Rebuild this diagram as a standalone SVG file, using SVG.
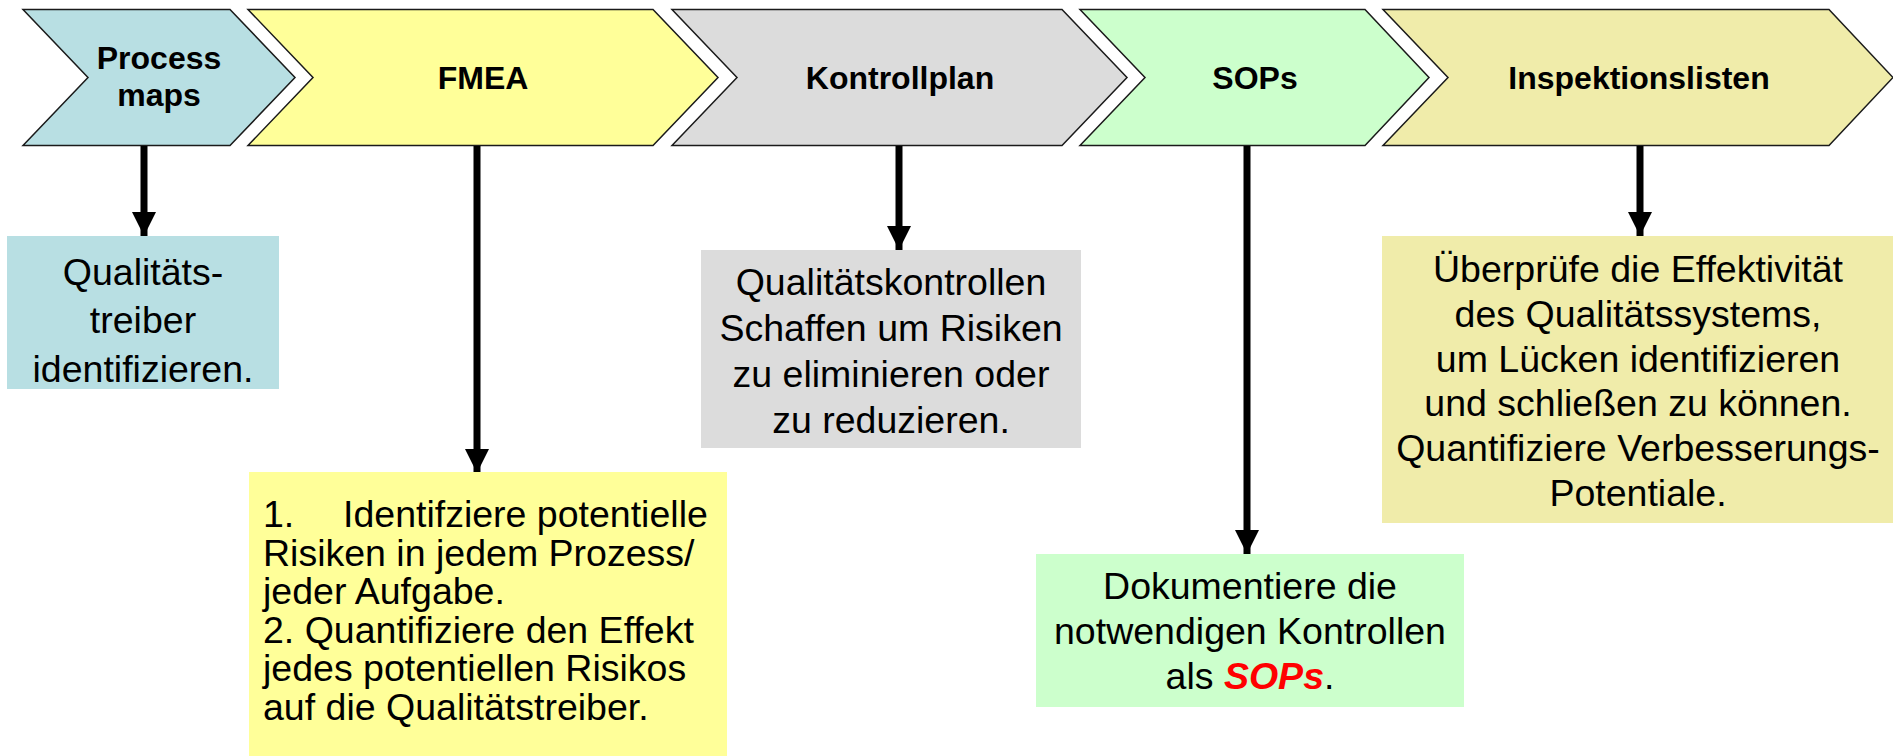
<svg xmlns="http://www.w3.org/2000/svg" width="1893" height="756" viewBox="0 0 1893 756">
  <style>
    .chev { stroke: #1a1a1a; stroke-width: 1.5; stroke-linejoin: miter; }
    .head { font-family: "Liberation Sans", Arial, sans-serif; font-weight: bold; font-size: 32px; fill: #000; text-anchor: middle; }
    .body { font-family: "Liberation Sans", Arial, sans-serif; font-size: 37.5px; fill: #000; }
    .mid { text-anchor: middle; }
    .stem { stroke: #000; stroke-width: 7; fill: none; }
    .hl { fill: #ff0000; font-weight: bold; font-style: italic; }
  </style>
  <defs>
    <marker id="tip" markerUnits="userSpaceOnUse" markerWidth="24" markerHeight="24" viewBox="0 0 24 24" refX="24" refY="12" orient="auto">
      <path d="M0,0 L24,12 L0,24 Z" fill="#000"/>
    </marker>
  </defs>
  <rect width="1893" height="756" fill="#fff"/>

  <!-- process chain across the top -->
  <g id="process-maps">
    <polygon class="chev" fill="#B8DFE3" points="23,9.5 230,9.5 295,77.5 230,145.5 23,145.5 88,77.5"/>
    <text class="head" x="159" y="69">Process</text>
    <text class="head" x="159" y="106">maps</text>
  </g>
  <g id="fmea">
    <polygon class="chev" fill="#FFFF99" points="248,9.5 653,9.5 718,77.5 653,145.5 248,145.5 313,77.5"/>
    <text class="head" x="483" y="89">FMEA</text>
  </g>
  <g id="kontrollplan">
    <polygon class="chev" fill="#DCDCDC" points="672,9.5 1062,9.5 1127,77.5 1062,145.5 672,145.5 737,77.5"/>
    <text class="head" x="900" y="89">Kontrollplan</text>
  </g>
  <g id="sops">
    <polygon class="chev" fill="#CCFFCC" points="1080,9.5 1365,9.5 1429,77.5 1365,145.5 1080,145.5 1145,77.5"/>
    <text class="head" x="1255" y="89">SOPs</text>
  </g>
  <g id="inspektionslisten">
    <polygon class="chev" fill="#F0ECAA" points="1383,9.5 1829,9.5 1893,77.5 1829,145.5 1383,145.5 1448,77.5"/>
    <text class="head" x="1639" y="89">Inspektionslisten</text>
  </g>

  <!-- connectors from each step down to its description -->
  <g id="connectors">
    <line class="stem" x1="144" y1="146" x2="144" y2="236" marker-end="url(#tip)"/>
    <line class="stem" x1="477" y1="146" x2="477" y2="473" marker-end="url(#tip)"/>
    <line class="stem" x1="899" y1="146" x2="899" y2="250" marker-end="url(#tip)"/>
    <line class="stem" x1="1247" y1="146" x2="1247" y2="554" marker-end="url(#tip)"/>
    <line class="stem" x1="1640" y1="146" x2="1640" y2="236" marker-end="url(#tip)"/>
  </g>

  <!-- description boxes -->
  <g id="box-qualitaetstreiber">
    <rect x="7" y="236" width="272" height="153" fill="#B8DFE3"/>
    <text class="body mid" x="143" y="285">Qualitäts-</text>
    <text class="body mid" x="143" y="333">treiber</text>
    <text class="body mid" x="143" y="382">identifizieren.</text>
  </g>
  <g id="box-fmea">
    <rect x="249" y="472" width="478" height="284" fill="#FFFF99"/>
    <text class="body" y="527"><tspan x="263">1.</tspan><tspan x="343">Identifziere potentielle</tspan></text>
    <text class="body" x="263" y="565.5">Risiken in jedem Prozess/</text>
    <text class="body" x="263" y="604">jeder Aufgabe.</text>
    <text class="body" x="263" y="642.5">2. Quantifiziere den Effekt</text>
    <text class="body" x="263" y="681">jedes potentiellen Risikos</text>
    <text class="body" x="263" y="719.5">auf die Qualitätstreiber.</text>
  </g>
  <g id="box-kontrollen">
    <rect x="701" y="250" width="380" height="198" fill="#DCDCDC"/>
    <text class="body mid" x="891" y="295">Qualitätskontrollen</text>
    <text class="body mid" x="891" y="341">Schaffen um Risiken</text>
    <text class="body mid" x="891" y="387">zu eliminieren oder</text>
    <text class="body mid" x="891" y="433">zu reduzieren.</text>
  </g>
  <g id="box-sops">
    <rect x="1036" y="554" width="428" height="153" fill="#CCFFCC"/>
    <text class="body mid" x="1250" y="599">Dokumentiere die</text>
    <text class="body mid" x="1250" y="644">notwendigen Kontrollen</text>
    <text class="body mid" x="1250" y="689">als <tspan class="hl">SOPs</tspan>.</text>
  </g>
  <g id="box-inspektion">
    <rect x="1382" y="236" width="511" height="287" fill="#F0ECAA"/>
    <text class="body mid" x="1638" y="282">Überprüfe die Effektivität</text>
    <text class="body mid" x="1638" y="327">des Qualitätssystems,</text>
    <text class="body mid" x="1638" y="372">um Lücken identifizieren</text>
    <text class="body mid" x="1638" y="416">und schließen zu können.</text>
    <text class="body mid" x="1638" y="461">Quantifiziere Verbesserungs-</text>
    <text class="body mid" x="1638" y="506">Potentiale.</text>
  </g>
</svg>
